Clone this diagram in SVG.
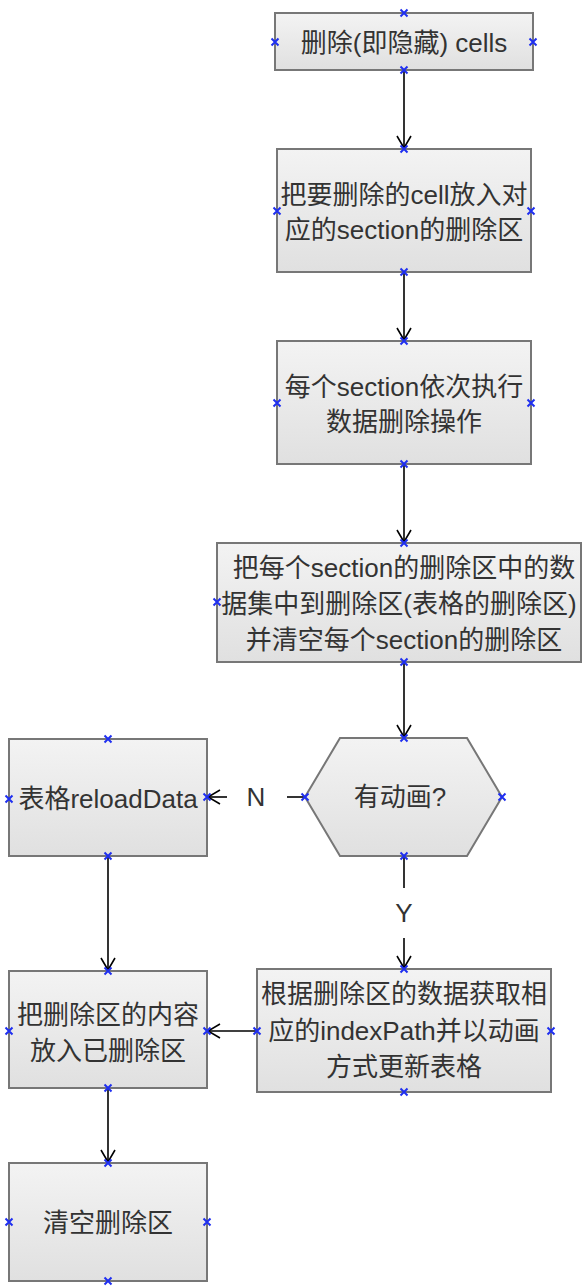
<svg xmlns="http://www.w3.org/2000/svg" xmlns:xlink="http://www.w3.org/1999/xlink" width="582" height="1288" viewBox="0 0 582 1288">
<style>
.box{stroke:#777;stroke-width:2;fill:url(#g)}
.t{font-family:"Liberation Sans","Noto Sans CJK SC",sans-serif;font-size:26px;fill:#333;text-anchor:middle}
.c{stroke:#000;stroke-width:1.6;fill:none}
.x{stroke:#1f2ff0;stroke-width:2;fill:none}
</style>
<defs>
<linearGradient id="g" x1="0" y1="0" x2="0" y2="1">
<stop offset="0" stop-color="#f3f3f3"/>
<stop offset="1" stop-color="#e0e0e0"/>
</linearGradient>
<marker id="a" markerUnits="userSpaceOnUse" markerWidth="14" markerHeight="16" viewBox="0 0 14 16" refX="13" refY="8" orient="auto">
<path d="M1,1 L13,8 L1,15" stroke="#000" stroke-width="1.6" fill="none"/>
</marker>
<path id="x" d="M-3.5,-3.5 L3.5,3.5 M-3.5,3.5 L3.5,-3.5" class="x"/>
</defs>
<g id="connectors">
<path class="c" d="M404,70 V148" marker-end="url(#a)"/>
<path class="c" d="M404,272 V340" marker-end="url(#a)"/>
<path class="c" d="M404,464 V542" marker-end="url(#a)"/>
<path class="c" d="M404,662 V737" marker-end="url(#a)"/>
<path class="c" d="M305,797 H287"/>
<path class="c" d="M227,797 H208" marker-end="url(#a)"/>
<text class="t" x="256" y="806">N</text>
<path class="c" d="M404,856 V888"/>
<path class="c" d="M404,938 V968" marker-end="url(#a)"/>
<text class="t" x="404" y="922">Y</text>
<path class="c" d="M108,856 V970" marker-end="url(#a)"/>
<path class="c" d="M257,1031 H208" marker-end="url(#a)"/>
<path class="c" d="M108,1088 V1162" marker-end="url(#a)"/>
</g>
<g id="n1">
<rect class="box" x="275" y="13" width="258" height="57"/>
<text class="t" x="404" y="52">删除(即隐藏) cells</text>
<use href="#x" x="404" y="13"/><use href="#x" x="404" y="70"/><use href="#x" x="275" y="42"/><use href="#x" x="533" y="42"/>
</g>
<g id="n2">
<rect class="box" x="277" y="149" width="254" height="123"/>
<text class="t" x="404" y="204">把要删除的cell放入对</text>
<text class="t" x="404" y="239">应的section的删除区</text>
<use href="#x" x="404" y="149"/><use href="#x" x="404" y="272"/><use href="#x" x="277" y="211"/><use href="#x" x="531" y="211"/>
</g>
<g id="n3">
<rect class="box" x="277" y="341" width="254" height="123"/>
<text class="t" x="404" y="396">每个section依次执行</text>
<text class="t" x="404" y="431">数据删除操作</text>
<use href="#x" x="404" y="341"/><use href="#x" x="404" y="464"/><use href="#x" x="277" y="403"/><use href="#x" x="531" y="403"/>
</g>
<g id="n4">
<rect class="box" x="217" y="543" width="364" height="119"/>
<text class="t" x="404" y="577">把每个section的删除区中的数</text>
<text class="t" x="399" y="613">据集中到删除区(表格的删除区)</text>
<text class="t" x="404" y="649">并清空每个section的删除区</text>
<use href="#x" x="404" y="543"/><use href="#x" x="404" y="662"/><use href="#x" x="217" y="602"/>
</g>
<g id="n5">
<polygon class="box" points="340,738 467,738 502,797 467,856 340,856 305,797"/>
<text class="t" x="400" y="806">有动画?</text>
<use href="#x" x="404" y="738"/><use href="#x" x="404" y="856"/><use href="#x" x="305" y="797"/><use href="#x" x="502" y="797"/>
</g>
<g id="n6">
<rect class="box" x="9" y="739" width="198" height="117"/>
<text class="t" x="108" y="808">表格reloadData</text>
<use href="#x" x="108" y="739"/><use href="#x" x="108" y="856"/><use href="#x" x="9" y="799"/><use href="#x" x="207" y="797"/>
</g>
<g id="n7">
<rect class="box" x="9" y="971" width="198" height="117"/>
<text class="t" x="108" y="1024">把删除区的内容</text>
<text class="t" x="108" y="1060">放入已删除区</text>
<use href="#x" x="108" y="971"/><use href="#x" x="108" y="1088"/><use href="#x" x="9" y="1031"/><use href="#x" x="207" y="1031"/>
</g>
<g id="n8">
<rect class="box" x="257" y="969" width="294" height="123"/>
<text class="t" x="404" y="1003">根据删除区的数据获取相</text>
<text class="t" x="404" y="1040">应的indexPath并以动画</text>
<text class="t" x="404" y="1076">方式更新表格</text>
<use href="#x" x="404" y="969"/><use href="#x" x="404" y="1092"/><use href="#x" x="257" y="1031"/><use href="#x" x="551" y="1031"/>
</g>
<g id="n9">
<rect class="box" x="9" y="1163" width="198" height="118"/>
<text class="t" x="108" y="1232">清空删除区</text>
<use href="#x" x="108" y="1163"/><use href="#x" x="108" y="1281"/><use href="#x" x="9" y="1222"/><use href="#x" x="207" y="1222"/>
</g>
</svg>
